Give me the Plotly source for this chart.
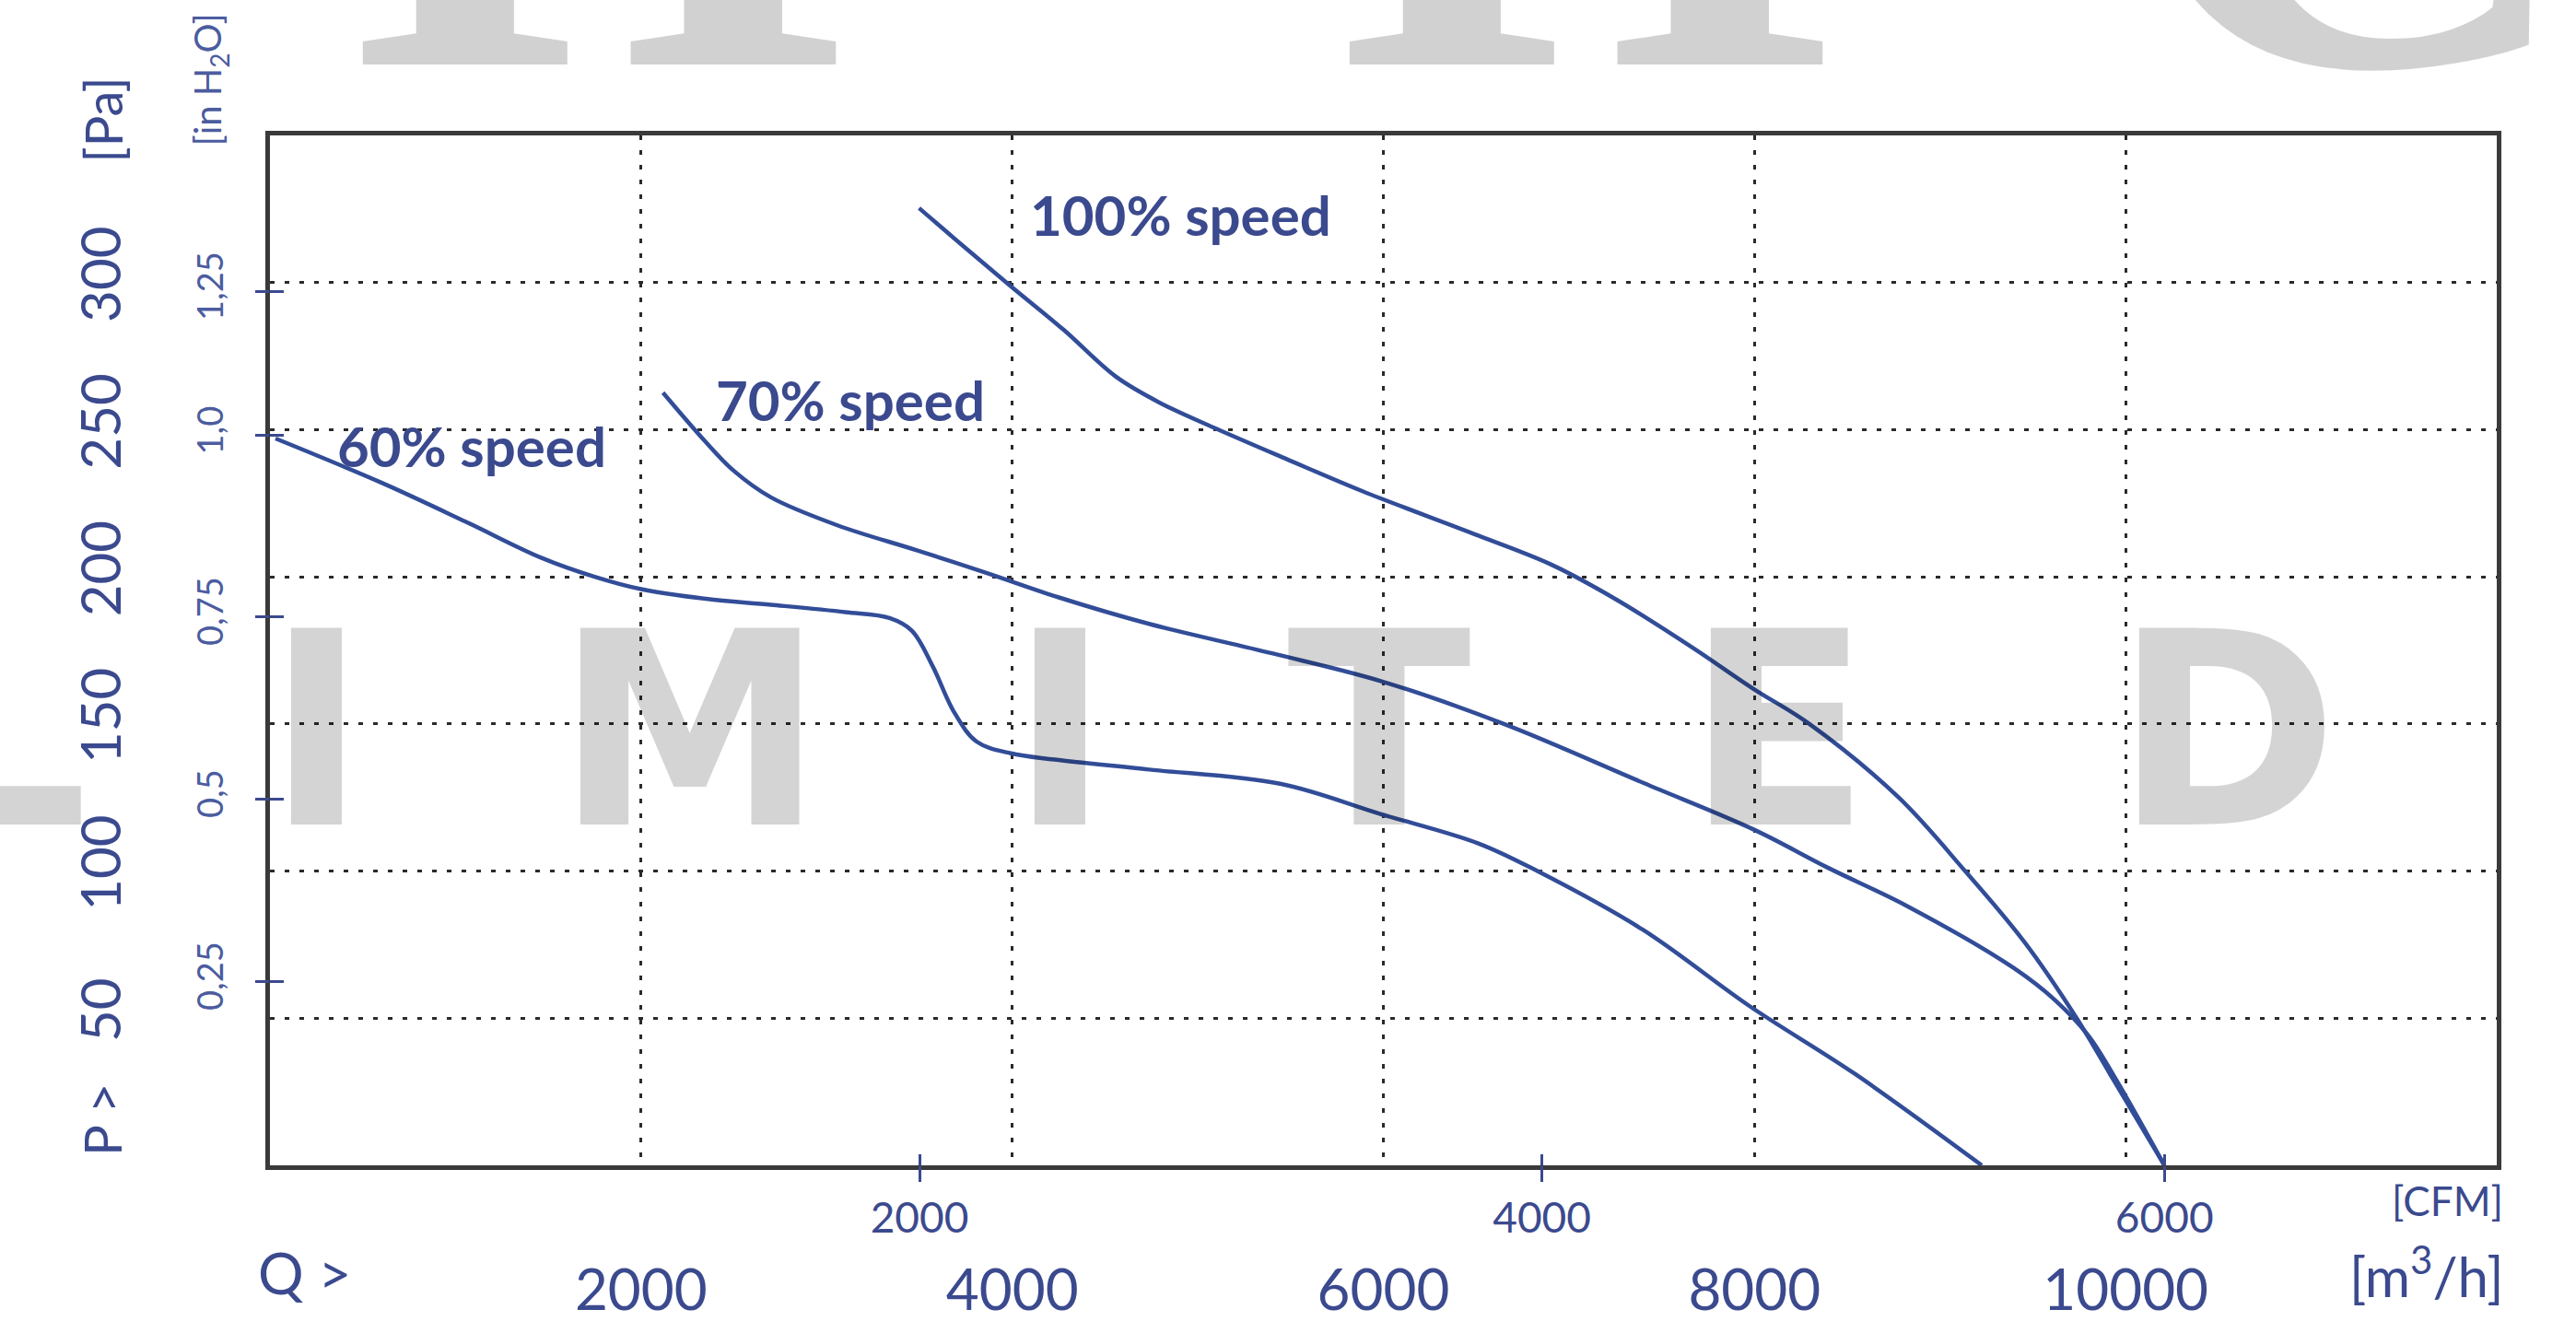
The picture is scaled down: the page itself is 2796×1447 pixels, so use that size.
import plotly.graph_objects as go

# ---------------- data ----------------
# airflow Q in m3/h, static pressure P in Pa
q_100 = [3498, 3734, 3988, 4276, 4559, 4800, 5101, 5479, 5891, 6512, 6910, 7263, 7665, 7993, 8296, 8777, 9135, 9453, 9736, 9935, 10209]
p_100 = [325.3, 312.5, 299, 284, 268, 259, 250.3, 240, 229, 214, 204, 192, 176, 162, 150, 125, 100, 76, 50, 29, 0]

q_70 = [2118, 2346, 2500, 2700, 3058, 3486, 3853, 4251, 4738, 5400, 5990, 6650, 7400, 8000, 8400, 8826, 9398, 9622, 9800, 9950, 10209]
p_70 = [262.6, 246, 236, 227, 217.5, 209, 201.5, 193, 184, 174, 164.5, 150, 130, 114, 101, 88, 67, 56, 44, 29, 0]

q_60 = [30, 600, 1062, 1461, 1750, 2000, 2350, 2700, 3100, 3339, 3459, 3573, 3687, 3808, 3993, 4229, 4738, 5449, 5980, 6512, 6830, 7400, 7976, 8543, 9225]
p_60 = [247, 232, 218.5, 206.5, 200, 195.8, 192.5, 190.5, 188, 186, 181.7, 169.4, 154, 144, 140, 137.9, 134.5, 129.6, 119.5, 109.4, 100, 80, 54, 31, 0]

curve_names = ["100% speed", "70% speed", "60% speed"]
label_q = [4087, 2392, 353]
label_p = [323, 260, 244.5]

m3h_ticks = [2000, 4000, 6000, 8000, 10000]
cfm_ticks = [2000, 4000, 6000]
pa_ticks = [50, 100, 150, 200, 250, 300]
inh2o_tick_pa = [62.5, 124.5, 186.5, 248, 297]
inh2o_labels = ["0,25", "0,5", "0,75", "1,0", "1,25"]

watermark_letters = ["L", "I", "M", "I", "T", "E", "D"]
watermark_top = ["H", "H", "C"]

# ---------------- style ----------------
BLUE = "#324d98"
TXT = "#3b4a8e"
TXT2 = "#4b5c9f"
GRID = "#2a2a2a"
FONT = "Lato"

fig = go.Figure()

for q, p in [(q_100, p_100), (q_70, p_70), (q_60, p_60)]:
    fig.add_trace(go.Scatter(x=q, y=p, mode="lines",
                             line=dict(color=BLUE, width=4.5, shape="spline", smoothing=1.0),
                             showlegend=False, hoverinfo="skip"))

# empty traces so the secondary axes are created
for xa, ya in [("x2", "y"), ("x3", "y"), ("x", "y2"), ("x", "y3")]:
    fig.add_trace(go.Scatter(x=[], y=[], xaxis=xa, yaxis=ya, showlegend=False, hoverinfo="skip"))

grid = dict(showgrid=True, gridcolor=GRID, gridwidth=3, griddash="5px,11px", zeroline=False)

fig.update_layout(
    width=2796, height=1447,
    margin=dict(l=293, r=86, t=147, b=157, pad=0),
    paper_bgcolor="white", plot_bgcolor="white",
    font=dict(family=FONT, color=TXT),
    xaxis=dict(range=[0, 12000], tickvals=m3h_ticks, ticktext=[str(v) for v in m3h_ticks],
               ticks="", tickfont=dict(size=62, color=TXT), ticklabelstandoff=78,
               showline=True, linecolor="#3a3a3a", linewidth=5, mirror=True, **grid),
    yaxis=dict(range=[0, 350], tickvals=pa_ticks, ticktext=[str(v) for v in pa_ticks],
               ticks="", tickangle=-90, tickfont=dict(size=60, color=TXT), ticklabelstandoff=133,
               showline=True, linecolor="#3a3a3a", linewidth=5, mirror=True, **grid),
    xaxis2=dict(overlaying="x", anchor="y", side="bottom", range=[-87, 7068],
                tickvals=cfm_ticks, ticktext=[str(v) for v in cfm_ticks],
                ticks="outside", ticklen=17, tickwidth=3, tickcolor=TXT,
                tickfont=dict(size=46, color=TXT), showgrid=False, zeroline=False, showline=False),
    xaxis3=dict(overlaying="x", anchor="y", side="bottom", range=[-87, 7068],
                tickvals=cfm_ticks, ticks="inside", ticklen=12, tickwidth=3, tickcolor=TXT,
                showticklabels=False, showgrid=False, zeroline=False, showline=False),
    yaxis2=dict(overlaying="y", anchor="x", side="left", range=[0, 350],
                tickvals=inh2o_tick_pa, ticktext=inh2o_labels, tickangle=-90,
                ticks="outside", ticklen=15, tickwidth=3, tickcolor=TXT,
                tickfont=dict(size=38, color=TXT2), ticklabelstandoff=20,
                showgrid=False, zeroline=False, showline=False),
    yaxis3=dict(overlaying="y", anchor="x", side="left", range=[0, 350],
                tickvals=inh2o_tick_pa, ticks="inside", ticklen=15, tickwidth=3, tickcolor=TXT,
                showticklabels=False, showgrid=False, zeroline=False, showline=False),
)

ann = []
# watermark "LIMITED"
wm_x = [-0.12, 0.0211, 0.1887, 0.3546, 0.4985, 0.6773, 0.8784]
for letter, xp in zip(watermark_letters, wm_x):
    ann.append(dict(text=letter, x=xp, y=0.422, xref="paper", yref="paper", showarrow=False,
                    xanchor="center", yanchor="middle",
                    font=dict(family="DejaVu Sans", size=293, color="rgba(0,0,0,0.17)", weight="bold")))
# watermark top (mostly cut off)
top_x = [0.148, 0.591, 0.934]
for letter, xp in zip(watermark_top, top_x):
    ann.append(dict(text=letter, x=xp, y=0.934, xref="paper", yref="paper", showarrow=False,
                    xanchor="center", yanchor="bottom",
                    font=dict(family="Liberation Serif", size=690, color="rgba(0,0,0,0.18)", weight="bold")))

# curve labels
for name, qx, py in zip(curve_names, label_q, label_p):
    ann.append(dict(text="<b>" + name + "</b>", x=qx, y=py, xref="x", yref="y", showarrow=False,
                    xanchor="left", yanchor="middle", font=dict(family=FONT, size=60, color=TXT)))

# axis titles
titles = [
    dict(text="[Pa]", x=-0.0753, y=1.0157, textangle=-90, font=dict(size=56, color=TXT)),
    dict(text="[in H<sub>2</sub>O]", x=-0.0269, y=1.054, textangle=-90, font=dict(size=40, color=TXT2)),
    dict(text="P >", x=-0.0753, y=0.045, textangle=-90, font=dict(size=56, color=TXT)),
    dict(text="Q >", x=0.0157, y=-0.104, font=dict(size=62, color=TXT)),
    dict(text="[CFM]", x=1.0037, y=-0.034, xanchor="right", font=dict(size=44, color=TXT)),
    dict(text="[m<sup>3</sup>/h]", x=1.0041, y=-0.104, xanchor="right", font=dict(size=60, color=TXT)),
]
for a in titles:
    a.update(xref="paper", yref="paper", showarrow=False)
    a.setdefault("xanchor", "center")
    a.setdefault("yanchor", "middle")
    a["font"]["family"] = FONT
ann += titles

fig.update_layout(annotations=ann)

fig.write_html("out.html", config={"displayModeBar": False, "staticPlot": True},
               post_script="document.body.style.margin='0';document.body.style.overflow='hidden';")
